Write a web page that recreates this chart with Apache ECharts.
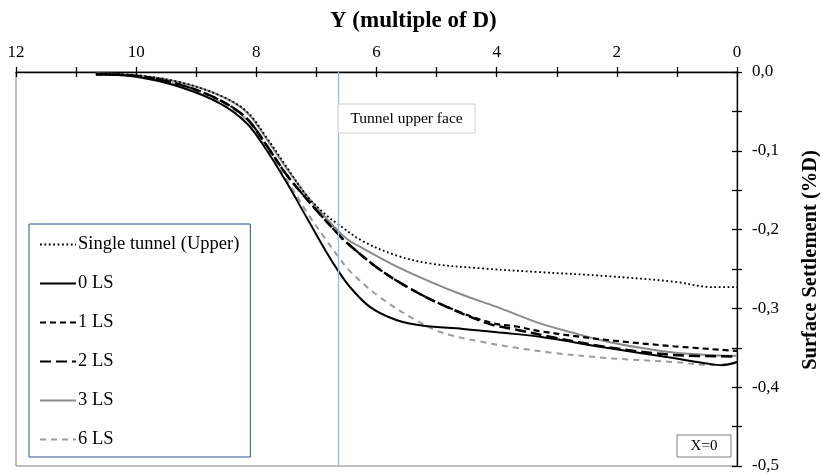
<!DOCTYPE html>
<html>
<head>
<meta charset="utf-8">
<script src="https://cdn.jsdelivr.net/npm/echarts@6/dist/echarts.min.js"></script>
<style>html,body{margin:0;padding:0;background:#fff}#c{width:822px;height:475px}</style>
</head>
<body>
<div id="c"></div>
<script>
const FONT = '"Liberation Serif", "Times New Roman", serif';
const xTitle = 'Y (multiple of D)';
const yTitle = 'Surface Settlement (%D)';
const seriesNames = ['Single tunnel (Upper)', '0 LS', '1 LS', '2 LS', '3 LS', '6 LS'];
const tunnelX = 6.64;
const tunnelLabel = 'Tunnel upper face';
const sectionLabel = 'X=0';

const singleTunnel = [[10.67,-0.002],[10,-0.004],[9.27,-0.013],[8.6,-0.03],[8.16,-0.05],[7.83,-0.083],[7.49,-0.121],[7.16,-0.157],[6.83,-0.182],[6.66,-0.192],[6.22,-0.215],[5.66,-0.233],[5.11,-0.243],[4.28,-0.249],[3.28,-0.254],[2.17,-0.259],[1.06,-0.266],[0.4,-0.273],[0,-0.273]];
const ls0 = [[10.67,-0.003],[10,-0.006],[9.27,-0.019],[8.6,-0.04],[8.16,-0.065],[7.83,-0.099],[7.49,-0.141],[7.16,-0.185],[6.83,-0.229],[6.64,-0.252],[6.44,-0.273],[6.11,-0.298],[5.66,-0.315],[5.22,-0.322],[4.56,-0.326],[3.89,-0.331],[3.28,-0.336],[2.17,-0.35],[1.06,-0.363],[0.5,-0.37],[0.25,-0.372],[0,-0.368]];
const ls1 = [[10.67,-0.003],[10,-0.005],[9.27,-0.016],[8.6,-0.036],[8.16,-0.059],[7.83,-0.093],[7.49,-0.131],[7.05,-0.171],[6.66,-0.204],[6.49,-0.217],[5.94,-0.251],[5.39,-0.277],[4.83,-0.298],[4.11,-0.318],[3.67,-0.323],[3.28,-0.329],[2.17,-0.34],[1.06,-0.348],[0,-0.354]];
const ls2 = [[10.67,-0.003],[10,-0.005],[9.27,-0.016],[8.6,-0.036],[8.16,-0.059],[7.83,-0.093],[7.49,-0.131],[7.05,-0.171],[6.66,-0.204],[6.49,-0.217],[5.94,-0.251],[5.39,-0.277],[4.83,-0.298],[4.11,-0.32],[3.67,-0.327],[3.11,-0.336],[2.17,-0.349],[1.06,-0.359],[0,-0.361]];
const ls3 = [[10.67,-0.002],[10,-0.004],[9.27,-0.013],[8.6,-0.03],[8.16,-0.051],[7.83,-0.085],[7.49,-0.123],[7.16,-0.157],[6.83,-0.186],[6.49,-0.212],[6.22,-0.224],[5.66,-0.247],[5.11,-0.266],[4.56,-0.283],[4,-0.298],[3.28,-0.319],[2.73,-0.331],[2.17,-0.342],[1.61,-0.35],[1.06,-0.356],[0.5,-0.359],[0,-0.36]];
const ls6 = [[10.67,-0.003],[10,-0.005],[9.27,-0.017],[8.6,-0.038],[8.16,-0.061],[7.83,-0.097],[7.49,-0.137],[7.16,-0.178],[6.83,-0.214],[6.64,-0.234],[6.44,-0.253],[5.94,-0.286],[5.39,-0.313],[4.94,-0.33],[4.28,-0.342],[3.67,-0.35],[3.11,-0.356],[2.17,-0.363],[1.06,-0.368],[0.4,-0.372],[0,-0.369]];

const chart = echarts.init(document.getElementById('c'), null, {renderer: 'canvas'});

function lineSeries(name, data, color, width, type, extra) {
  return Object.assign({
    name: name, type: 'line', data: data, smooth: 0.35, symbol: 'none',
    xAxisIndex: 0, yAxisIndex: 0,
    lineStyle: {color: color, width: width, type: type},
    itemStyle: {color: color},
    emphasis: {disabled: true}
  }, extra || {});
}

const tickFmtX = v => (Math.round(v) % 2 === 0 ? String(Math.round(v)) : '');
const tickFmtY = v => {
  const k = Math.round(v * 100);
  if (k % 10 !== 0) return '';
  return (k / 100).toFixed(1).replace('.', ',');
};

const option = {
  animation: false,
  backgroundColor: '#fff',
  title: {
    text: xTitle, left: 330, top: 10, padding: 0,
    textStyle: {fontFamily: FONT, fontSize: 23, fontWeight: 'bold', color: '#000'}
  },
  grid: {left: 16, right: 85, top: 72, bottom: 9, show: true, borderColor: '#7f7f7f', borderWidth: 1, backgroundColor: 'transparent'},
  legend: {
    orient: 'vertical', left: 29, top: 224,
    padding: [11, 11, 8, 10], itemGap: 20, itemWidth: 36, itemHeight: 14,
    backgroundColor: '#fff', borderColor: '#2f4f8f', borderWidth: 1, borderRadius: 0,
    itemStyle: {opacity: 0, borderWidth: 0},
    textStyle: {fontFamily: FONT, fontSize: 18.5, color: '#000', padding: [0, 0, 0, -3]},
    data: seriesNames
  },
  xAxis: [
    {type: 'value', position: 'top', inverse: true, min: 0, max: 12, interval: 1,
     axisLine: {lineStyle: {color: '#000', width: 1.3}},
     axisTick: {inside: false, length: 5, lineStyle: {color: '#000', width: 1.3}},
     axisLabel: {formatter: tickFmtX, margin: 11, fontFamily: FONT, fontSize: 17, color: '#000'},
     splitLine: {show: false}},
    {type: 'value', position: 'top', inverse: true, min: 0, max: 12, interval: 1,
     axisLine: {show: false},
     axisTick: {inside: true, length: 5, lineStyle: {color: '#000', width: 1.3}},
     axisLabel: {show: false}, splitLine: {show: false}}
  ],
  yAxis: [
    {type: 'value', position: 'right', min: -0.5, max: 0, interval: 0.05,
     axisLine: {onZero: false, lineStyle: {color: '#000', width: 1.3}},
     axisTick: {inside: false, length: 5, lineStyle: {color: '#000', width: 1.3}},
     axisLabel: {formatter: tickFmtY, margin: 15, fontFamily: FONT, fontSize: 17, color: '#000'},
     splitLine: {show: false}},
    {type: 'value', position: 'right', min: -0.5, max: 0, interval: 0.05,
     axisLine: {show: false},
     axisTick: {inside: true, length: 5, lineStyle: {color: '#000', width: 1.3}},
     axisLabel: {show: false}, splitLine: {show: false}}
  ],
  series: [
    lineSeries(seriesNames[4], ls3, '#8a8a8a', 2, 'solid', {z: 2}),
    lineSeries(seriesNames[5], ls6, '#9c9c9c', 2, [6, 5], {z: 2}),
    lineSeries(seriesNames[0], singleTunnel, '#000', 1.8, [1.8, 2.6], {z: 3,
      markLine: {silent: true, symbol: ['none', 'none'], animation: false,
        label: {show: false},
        lineStyle: {color: '#9db7e0', width: 1.3, type: 'solid'},
        data: [{xAxis: tunnelX}]}}),
    lineSeries(seriesNames[1], ls0, '#000', 2, 'solid', {z: 4}),
    lineSeries(seriesNames[2], ls1, '#000', 2.2, [6, 4], {z: 4}),
    lineSeries(seriesNames[3], ls2, '#000', 2.5, [11, 5], {z: 4})
  ]
};
chart.setOption(option);

const tx = chart.convertToPixel({xAxisIndex: 0}, tunnelX);
chart.setOption({
  graphic: [
    {type: 'rect', z: 10, shape: {x: tx, y: 104, width: 137, height: 29},
     style: {fill: '#fff', stroke: '#d0d0d0', lineWidth: 1}},
    {type: 'text', z: 11, x: tx + 68.5, y: 118.5,
     style: {text: tunnelLabel, font: '15.5px ' + FONT, fill: '#000', align: 'center', verticalAlign: 'middle', textAlign: 'center', textVerticalAlign: 'middle'}},
    {type: 'rect', z: 10, shape: {x: 677, y: 435, width: 54, height: 22},
     style: {fill: '#fff', stroke: '#808080', lineWidth: 1}},
    {type: 'text', z: 11, x: 704, y: 446.5,
     style: {text: sectionLabel, font: '15px ' + FONT, fill: '#000', align: 'center', verticalAlign: 'middle', textAlign: 'center', textVerticalAlign: 'middle'}},
    {type: 'text', z: 11, x: 811, y: 260, rotation: Math.PI / 2,
     style: {text: yTitle, font: 'bold 20.5px ' + FONT, fill: '#000', align: 'center', verticalAlign: 'middle', textAlign: 'center', textVerticalAlign: 'middle'}}
  ]
});
</script>
</body>
</html>
